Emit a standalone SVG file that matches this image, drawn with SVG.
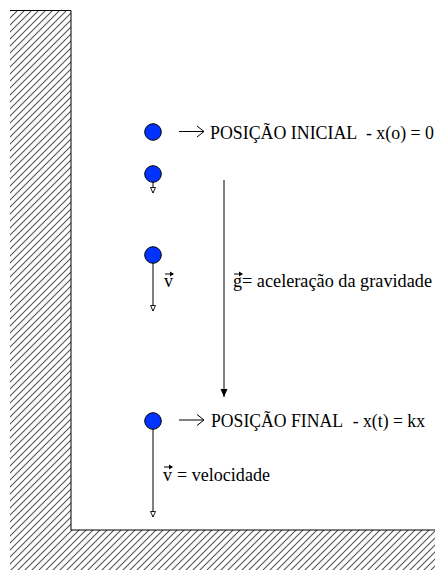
<svg xmlns="http://www.w3.org/2000/svg" width="436" height="571" viewBox="0 0 436 571">
<style>
.t{font-family:"Liberation Serif","Times New Roman",serif;font-size:18px;fill:#000}
.ball{fill:#0033ff;stroke:#000;stroke-width:1}
.ln{stroke:#000;stroke-width:1;fill:none}
</style>
<defs>
<pattern id="hatch" patternUnits="userSpaceOnUse" width="7" height="7">
<path d="M0,7 L7,0 M-1,1 L1,-1 M6,8 L8,6" stroke="#555" stroke-width="1.1"/>
</pattern>
<marker id="open" viewBox="0 0 8 8" refX="7" refY="4" markerWidth="8" markerHeight="8" markerUnits="userSpaceOnUse" orient="auto">
<path d="M1.5,1.5 L7,4 L1.5,6.5 Z" fill="#fff" stroke="#000" stroke-width="0.9"/>
</marker>
<marker id="filled" viewBox="0 0 10 8" refX="9" refY="4" markerWidth="10" markerHeight="8" markerUnits="userSpaceOnUse" orient="auto">
<path d="M1,0.5 L9,4 L1,7.5 Z" fill="#000"/>
</marker>
</defs>
<rect width="436" height="571" fill="#fff"/>
<g id="wall">
<path d="M10,10 H71 V530 H435 V570 H10 Z" fill="url(#hatch)"/>
<path d="M10,10.5 H71 V530 H435" class="ln"/>
</g>
<g id="connectors">
<line x1="224" y1="180" x2="224" y2="397" class="ln" marker-end="url(#filled)"/>
<line x1="153" y1="182" x2="153" y2="193" class="ln" marker-end="url(#open)"/>
<line x1="153" y1="263" x2="153" y2="311" class="ln" marker-end="url(#open)"/>
<line x1="153" y1="429" x2="153" y2="517" class="ln" marker-end="url(#open)"/>
<path d="M179,131.5 H204 M197,126 L204,131.5 L197,137" class="ln"/>
<path d="M179,420 H204 M197,414.5 L204,420 L197,425.5" class="ln"/>
</g>
<g id="ball1"><circle cx="153" cy="132" r="8.3" class="ball"/></g>
<g id="ball2"><circle cx="153" cy="174" r="8.3" class="ball"/></g>
<g id="ball3"><circle cx="153" cy="255" r="8.3" class="ball"/></g>
<g id="ball4"><circle cx="153" cy="421" r="8.3" class="ball"/></g>
<g id="label-inicial">
<text class="t" x="210" y="139" textLength="224" lengthAdjust="spacingAndGlyphs">POSIÇÃO INICIAL <tspan dx="5">- x(o) = 0</tspan></text>
</g>
<g id="label-final">
<text class="t" x="211" y="427" textLength="214" lengthAdjust="spacingAndGlyphs">POSIÇÃO FINAL <tspan dx="6">- x(t) = kx</tspan></text>
</g>
<g id="label-v">
<text class="t" x="164" y="287">v</text>
<path d="M165,274 H173" class="ln"/><path d="M170,271.5 L174,274 L170,276.5 Z" fill="#000"/>
</g>
<g id="label-g">
<text class="t" x="233" y="287">g</text>
<path d="M234,274 H242" class="ln"/><path d="M239,271.5 L243,274 L239,276.5 Z" fill="#000"/>
<text class="t" x="242" y="287" textLength="190" lengthAdjust="spacingAndGlyphs">= aceleração da gravidade</text>
</g>
<g id="label-velocidade">
<text class="t" x="163" y="481">v</text>
<path d="M164,467 H172" class="ln"/><path d="M169,464.5 L173,467 L169,469.5 Z" fill="#000"/>
<text class="t" x="177" y="481" textLength="93" lengthAdjust="spacingAndGlyphs">= velocidade</text>
</g>
</svg>
